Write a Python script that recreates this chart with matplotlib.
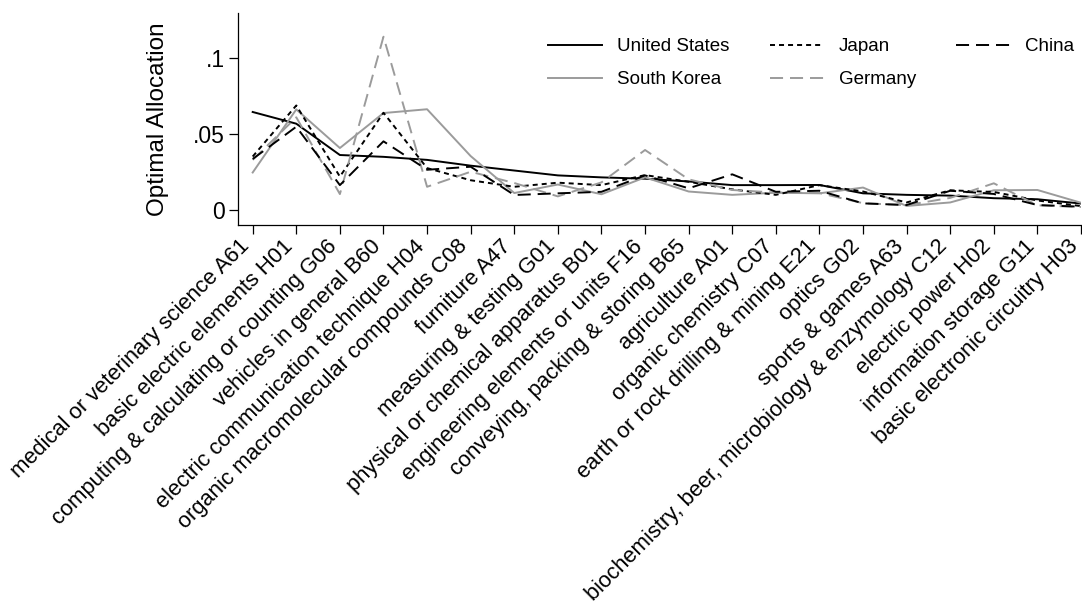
import matplotlib
matplotlib.use("Agg")
import matplotlib.pyplot as plt
import matplotlib.transforms as mtransforms
import numpy as np

plt.rcParams['font.family'] = ['Liberation Sans', 'DejaVu Sans']
plt.rcParams['lines.scale_dashes'] = False

categories = [
    "medical or veterinary science A61",
    "basic electric elements H01",
    "computing & calculating or counting G06",
    "vehicles in general B60",
    "electric communication technique H04",
    "organic macromolecular compounds C08",
    "furniture A47",
    "measuring & testing G01",
    "physical or chemical apparatus B01",
    "engineering elements or units F16",
    "conveying, packing & storing B65",
    "agriculture A01",
    "organic chemistry C07",
    "earth or rock drilling & mining E21",
    "optics G02",
    "sports & games A63",
    "biochemistry, beer, microbiology & enzymology C12",
    "electric power H02",
    "information storage G11",
    "basic electronic circuitry H03",
]

united_states = [0.0645, 0.0568, 0.0362, 0.0350, 0.0330, 0.0292, 0.0260, 0.0228, 0.0215,
                 0.0206, 0.0188, 0.0164, 0.0164, 0.0165, 0.0110, 0.0100, 0.0095, 0.0078,
                 0.0071, 0.0043]
south_korea = [0.0247, 0.0662, 0.0408, 0.0638, 0.0663, 0.0355, 0.0112, 0.0168, 0.0104,
               0.0215, 0.0122, 0.0100, 0.0114, 0.0110, 0.0148, 0.0027, 0.0050, 0.0130,
               0.0132, 0.0048]
japan = [0.0352, 0.0688, 0.0220, 0.0640, 0.0276, 0.0196, 0.0153, 0.0180, 0.0164,
         0.0230, 0.0186, 0.0136, 0.0100, 0.0164, 0.0122, 0.0050, 0.0130, 0.0119,
         0.0063, 0.0026]
germany = [0.0330, 0.0610, 0.0105, 0.1140, 0.0153, 0.0252, 0.0178, 0.0090, 0.0182,
           0.0395, 0.0202, 0.0132, 0.0115, 0.0112, 0.0045, 0.0032, 0.0080, 0.0176,
           0.0031, 0.0020]
china = [0.0336, 0.0548, 0.0164, 0.0452, 0.0265, 0.0285, 0.0099, 0.0110, 0.0120,
         0.0228, 0.0143, 0.0235, 0.0120, 0.0127, 0.0044, 0.0033, 0.0127, 0.0106,
         0.0033, 0.0022]

yticks = [0, 0.05, 0.1]
yticklabels = ["0", ".05", ".1"]

W, H = 1082, 610
fig = plt.figure(figsize=(W / 100, H / 100), dpi=100)
ax_left, ax_right, ax_top, ax_bottom = 238, 1081, 13, 224.5
ax = fig.add_axes([ax_left / W, 1 - ax_bottom / H,
                   (ax_right - ax_left) / W, (ax_bottom - ax_top) / H])

x = np.arange(1, len(categories) + 1)
gray = '#9b9b9b'
lw = 1.4
ax.plot(x, united_states, color='black', lw=lw, label='United States')
ax.plot(x, south_korea, color=gray, lw=lw, label='South Korea')
ax.plot(x, japan, color='black', lw=lw, linestyle=(0, (3.6, 2.9)), label='Japan')
ax.plot(x, germany, color=gray, lw=lw, linestyle=(0, (9.4, 5.0)), label='Germany')
ax.plot(x, china, color='black', lw=lw, linestyle=(0, (9.4, 5.0)), label='China')

ax.set_xlim(0.663, 20.0)
ax.set_ylim(-0.0095, 0.1296)

for side in ('top', 'right'):
    ax.spines[side].set_visible(False)
for side in ('left', 'bottom'):
    ax.spines[side].set_linewidth(0.9)

ax.set_yticks(yticks)
ax.set_yticklabels(yticklabels, fontsize=16.5)
ax.tick_params(axis='y', direction='out', length=6.5, width=0.9, pad=3)

ax.set_xticks(x)
ax.set_xticklabels(categories, fontsize=15.8, rotation=45, ha='right',
                   va='center', rotation_mode='anchor')
ax.tick_params(axis='x', direction='out', length=6.5, width=0.9, pad=7)

# nudge the slanted category labels slightly left so the last one stays inside
shift = mtransforms.ScaledTranslation(-6 / 100, 0, fig.dpi_scale_trans)
for lab in ax.get_xticklabels():
    lab.set_transform(lab.get_transform() + shift)

ax.set_ylabel('Optimal Allocation', fontsize=17.5)
ax.yaxis.set_label_coords((158 - ax_left) / (ax_right - ax_left), 0.5)
ax.yaxis.label.set_va('center')

leg = fig.legend(loc='upper left', bbox_to_anchor=(548 / W, 1 - 38 / H),
                 ncol=3, frameon=False, fontsize=13.5, handlelength=2.88,
                 handletextpad=0.8, columnspacing=2.15, labelspacing=0.85,
                 borderpad=0, borderaxespad=0)

fig.savefig('out.png', dpi=100)
